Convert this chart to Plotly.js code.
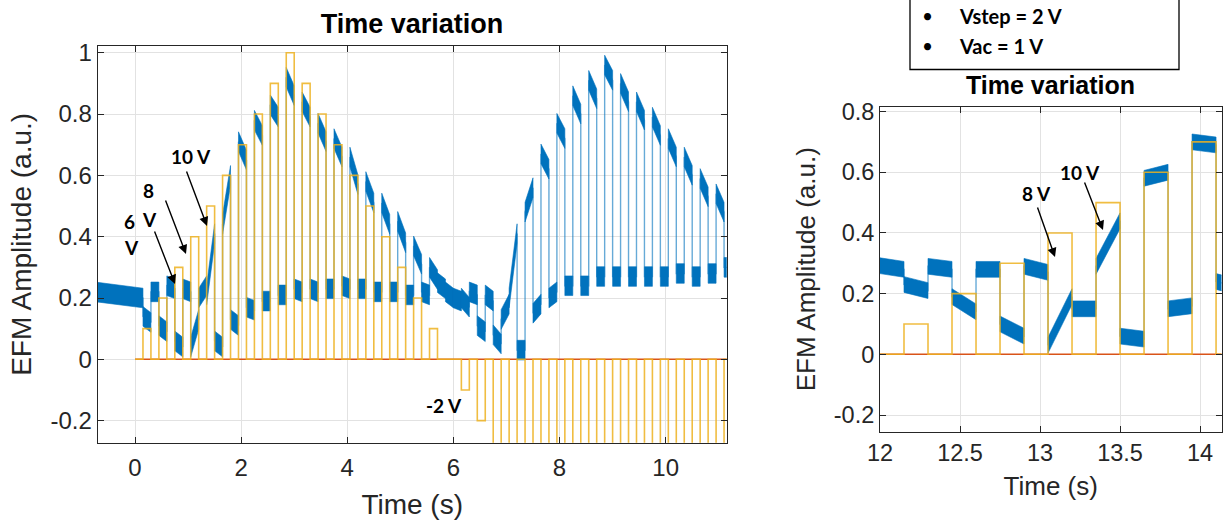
<!DOCTYPE html>
<html><head><meta charset="utf-8">
<script src="https://cdn.plot.ly/plotly-3.0.1.min.js"></script>
<style>html,body{margin:0;padding:0;background:#fff;overflow:hidden}#chart{width:1223px;height:525px}</style>
</head><body><div id="chart"></div>
<script>
// ---------- Main panel data ----------
// pulse train: start time of each pulse (s) and its amplitude (a.u.)
const mainPulseStart = [0.15,0.45,0.75,1.05,1.35,1.65,1.95,2.25,2.55,2.85,3.15,3.45,3.75,4.05,4.35,4.65,4.95,5.25,5.55,5.85,6.15,6.45,6.75,7.05,7.35,7.65,7.95,8.25,8.55,8.85,9.15,9.45,9.75,10.05,10.35,10.65,10.95];
const mainPulseAmp   = [0.1,0.2,0.3,0.4,0.5,0.6,0.7,0.8,0.9,1.0,0.9,0.8,0.7,0.6,0.5,0.4,0.3,0.2,0.1,0,-0.1,-0.2,-0.3,-0.4,-0.5,-0.6,-0.7,-0.8,-0.9,-1.0,-0.9,-0.8,-0.7,-0.6,-0.5,-0.4,-0.3];
const mainPulseWidth = 0.15;
const mainSignalStart = -0.75;   // EFM record starts before the pulse train
const mainPulseBase = 0;         // pulse train baseline starts at t = 0
const mainEnd = 11.25;
// EFM amplitude during each pulse (level at start / end of the pulse)
const mainOnStart = [0.14,0.11,0.06,0.04,0.21,0.44,0.71,0.78,0.83,0.92,0.84,0.77,0.72,0.66,0.58,0.51,0.45,0.37,0.30,0.22,0.20,0.11,0.08,0.20,0.48,0.67,0.77,0.86,0.91,0.96,0.90,0.84,0.79,0.72,0.66,0.59,0.54];
const mainOnEnd   = [0.12,0.09,0.04,0.13,0.41,0.60,0.65,0.73,0.79,0.86,0.79,0.71,0.66,0.57,0.51,0.44,0.38,0.31,0.26,0.20,0.17,0.09,0.05,0.41,0.56,0.62,0.72,0.80,0.85,0.91,0.84,0.78,0.73,0.66,0.60,0.53,0.48];
// EFM amplitude between pulses (first entry: before the first pulse, then after each pulse)
const mainOffStart = [0.22,0.22,0.24,0.23,0.20,0.06,0.13,0.17,0.19,0.21,0.23,0.23,0.23,0.24,0.23,0.22,0.22,0.21,0.22,0.25,0.20,0.22,0.21,0.13,0.03,0.15,0.20,0.24,0.24,0.27,0.27,0.27,0.27,0.27,0.28,0.27,0.28,0.30];
const mainOffEnd   = [0.20,0.22,0.23,0.22,0.24,0.04,0.11,0.16,0.19,0.21,0.22,0.22,0.23,0.23,0.23,0.22,0.22,0.21,0.21,0.23,0.19,0.21,0.19,0.18,0.03,0.18,0.22,0.24,0.24,0.27,0.27,0.27,0.27,0.27,0.28,0.27,0.28,0.30];

// ---------- Zoomed panel data ----------
const zoomPulseStart = [12.15,12.45,12.75,13.05,13.35,13.65,13.95];
const zoomPulseAmp   = [0.1,0.2,0.3,0.4,0.5,0.6,0.7];
const zoomPulseWidth = 0.15;
const zoomSignalStart = 11.9;
const zoomPulseBase = 11.9;
const zoomEnd = 14.25;
const zoomOnStart  = [0.23,0.19,0.10,0.03,0.29,0.58,0.70];
const zoomOnEnd    = [0.21,0.14,0.06,0.19,0.44,0.60,0.69];
const zoomOffStart = [0.30,0.29,0.28,0.29,0.15,0.06,0.15,0.24];
const zoomOffEnd   = [0.28,0.28,0.28,0.27,0.15,0.05,0.16,0.22];

// axis tick labels
const mainXTicks = [0,2,4,6,8,10];
const mainYTicks = [-0.2,0,0.2,0.4,0.6,0.8,1];
const mainYTickText = ['-0.2','0','0.2','0.4','0.6','0.8','1'];
const zoomXTicks = [12,12.5,13,13.5,14];
const zoomXTickText = ['12','12.5','13','13.5','14'];
const zoomYTicks = [-0.2,0,0.2,0.4,0.6,0.8];
const zoomYTickText = ['-0.2','0','0.2','0.4','0.6','0.8'];

const BLUE = '#0072BD', YEL = 'rgba(237,177,32,0.85)', RED = '#D95319';

function panelTraces(ps, pa, w, sigStart, baseStart, tEnd, onS, onE, offS, offE, noise, xa, ya) {
  const segs = [];
  segs.push([sigStart, ps[0], offS[0], offE[0]]);
  for (let k = 0; k < ps.length; k++) {
    const t1 = ps[k] + w;
    const t2 = (k + 1 < ps.length) ? ps[k + 1] : Math.min(tEnd, ps[k] + 2 * w);
    segs.push([ps[k], t1, onS[k], onE[k]]);
    segs.push([t1, t2, offS[k + 1], offE[k + 1]]);
  }
  const lx = [], ly = [], bx = [], by = [];
  segs.forEach(s => {
    lx.push(s[0], s[1]); ly.push(s[2], s[3]);
    bx.push(s[0], s[1], s[1], s[0], s[0], null);
    by.push(s[2] + noise, s[3] + noise, s[3] - noise, s[2] - noise, s[2] + noise, null);
  });
  const px = [baseStart], py = [0];
  for (let k = 0; k < ps.length; k++) {
    px.push(ps[k], ps[k], ps[k] + w, ps[k] + w);
    py.push(0, pa[k], pa[k], 0);
  }
  px.push(tEnd); py.push(0);
  const common = {xaxis: xa, yaxis: ya, mode: 'lines', hoverinfo: 'skip', showlegend: false};
  return [
    Object.assign({x: [baseStart, tEnd], y: [0, 0], line: {color: RED, width: 1.6}}, common),
    Object.assign({x: lx, y: ly, line: {color: 'rgba(0,114,189,0.6)', width: 1.4}}, common),
    Object.assign({x: bx, y: by, fill: 'toself', fillcolor: BLUE, line: {color: BLUE, width: 0.6}}, common),
    Object.assign({x: px, y: py, line: {color: YEL, width: 1.6}}, common)
  ];
}

const data = [].concat(
  panelTraces(mainPulseStart, mainPulseAmp, mainPulseWidth, mainSignalStart, mainPulseBase, mainEnd,
              mainOnStart, mainOnEnd, mainOffStart, mainOffEnd, 0.032, 'x', 'y'),
  panelTraces(zoomPulseStart, zoomPulseAmp, zoomPulseWidth, zoomSignalStart, zoomPulseBase, zoomEnd,
              zoomOnStart, zoomOnEnd, zoomOffStart, zoomOffEnd, 0.026, 'x2', 'y2')
);

const W = 1223, H = 525;
const FONT = 'Liberation Sans, Arial, Helvetica, sans-serif';
const LBL = 'Lato, Open Sans, sans-serif';
const INK = '#262626';
function ax(extra) {
  return Object.assign({
    showline: true, linecolor: INK, linewidth: 1, mirror: 'ticks',
    ticks: 'inside', ticklen: 6, tickcolor: INK, tickwidth: 1,
    showgrid: true, gridcolor: '#e2e2e2', gridwidth: 1, zeroline: false,
    automargin: false, fixedrange: true,
    tickfont: {family: FONT, size: 24, color: INK}
  }, extra);
}
const P = (x, y) => ({x: x / W, y: 1 - y / H, xref: 'paper', yref: 'paper'});
function label(txt, x, y, size) {
  return Object.assign(P(x, y), {text: '<b>' + txt + '</b>', showarrow: false, xanchor: 'center', yanchor: 'middle',
    font: {family: LBL, size: size || 19, color: '#000'}});
}
function arrow(hx, hy, tx, ty) {
  return Object.assign(P(hx, hy), {text: '', showarrow: true, ax: tx - hx, ay: ty - hy,
    arrowhead: 2, arrowsize: 1.3, arrowwidth: 1.4, arrowcolor: '#000', standoff: 0, startstandoff: 0});
}

const layout = {
  width: W, height: H, margin: {l: 0, r: 0, t: 0, b: 0},
  paper_bgcolor: '#fff', plot_bgcolor: '#fff', showlegend: false,
  title: {text: '<b>Time variation</b>', x: 412 / W, y: 1 - 24 / H, xref: 'paper', yref: 'paper',
          xanchor: 'center', yanchor: 'middle', font: {family: FONT, size: 27, color: '#000'}},
  xaxis: ax({domain: [97.7 / W, 726.7 / W], range: [-0.703, 11.15], anchor: 'y',
             tickvals: mainXTicks, ticktext: mainXTicks.map(String), ticklabelstandoff: 3,
             title: {text: 'Time (s)', font: {family: FONT, size: 28, color: INK}, standoff: 14}}),
  yaxis: ax({domain: [(H - 442.7) / H, (H - 46) / H], range: [-0.272, 1.022], anchor: 'x',
             tickvals: mainYTicks, ticktext: mainYTickText,
             title: {text: 'EFM Amplitude (a.u.)', font: {family: FONT, size: 28, color: INK}, standoff: 10}}),
  xaxis2: ax({domain: [880 / W, 1221.5 / W], range: [12, 14.134], anchor: 'y2',
              tickvals: zoomXTicks, ticktext: zoomXTickText, tickfont: {family: FONT, size: 23.5, color: INK},
              title: {text: 'Time (s)', font: {family: FONT, size: 26, color: INK}, standoff: 11}}),
  yaxis2: ax({domain: [(H - 431.7) / H, (H - 106.7) / H], range: [-0.255, 0.816], anchor: 'x2',
              tickvals: zoomYTicks, ticktext: zoomYTickText, tickfont: {family: FONT, size: 23.5, color: INK},
              title: {text: 'EFM Amplitude (a.u.)', font: {family: FONT, size: 26, color: INK}, standoff: 10}}),
  shapes: [{type: 'rect', xref: 'paper', yref: 'paper', x0: 910 / W, x1: 1179 / W, y0: 1 - 69.5 / H, y1: 1.05,
            line: {color: '#000', width: 1.3}, fillcolor: '#fff', layer: 'above'}],
  annotations: [
    Object.assign(P(1050, 85), {text: '<b>Time variation</b>', showarrow: false, xanchor: 'center', yanchor: 'middle',
      font: {family: FONT, size: 25, color: '#000'}}),
    Object.assign(P(927, 16), {text: '•', showarrow: false, xanchor: 'center', yanchor: 'middle', font: {family: LBL, size: 19, color: '#000'}}),
    Object.assign(P(927, 46), {text: '•', showarrow: false, xanchor: 'center', yanchor: 'middle', font: {family: LBL, size: 19, color: '#000'}}),
    Object.assign(P(957, 16), {text: '<b>Vstep = 2 V</b>', showarrow: false, xanchor: 'left', yanchor: 'middle', font: {family: LBL, size: 20, color: '#000'}}),
    Object.assign(P(957, 46), {text: '<b>Vac = 1 V</b>', showarrow: false, xanchor: 'left', yanchor: 'middle', font: {family: LBL, size: 20, color: '#000'}}),
    label('10 V', 191, 156), label('8', 148, 190), label('V', 149, 219),
    label('6', 129, 221), label('V', 131, 248), label('-2 V', 444, 405),
    label('8 V', 1036, 193), label('10 V', 1080, 172),
    arrow(207, 226, 186, 170), arrow(186, 254, 165, 199), arrow(175, 284, 154, 230),
    arrow(1055, 257, 1037, 206), arrow(1103, 230, 1084, 181)
  ]
};

Plotly.newPlot('chart', data, layout, {displayModeBar: false, staticPlot: true});
</script>
</body></html>
